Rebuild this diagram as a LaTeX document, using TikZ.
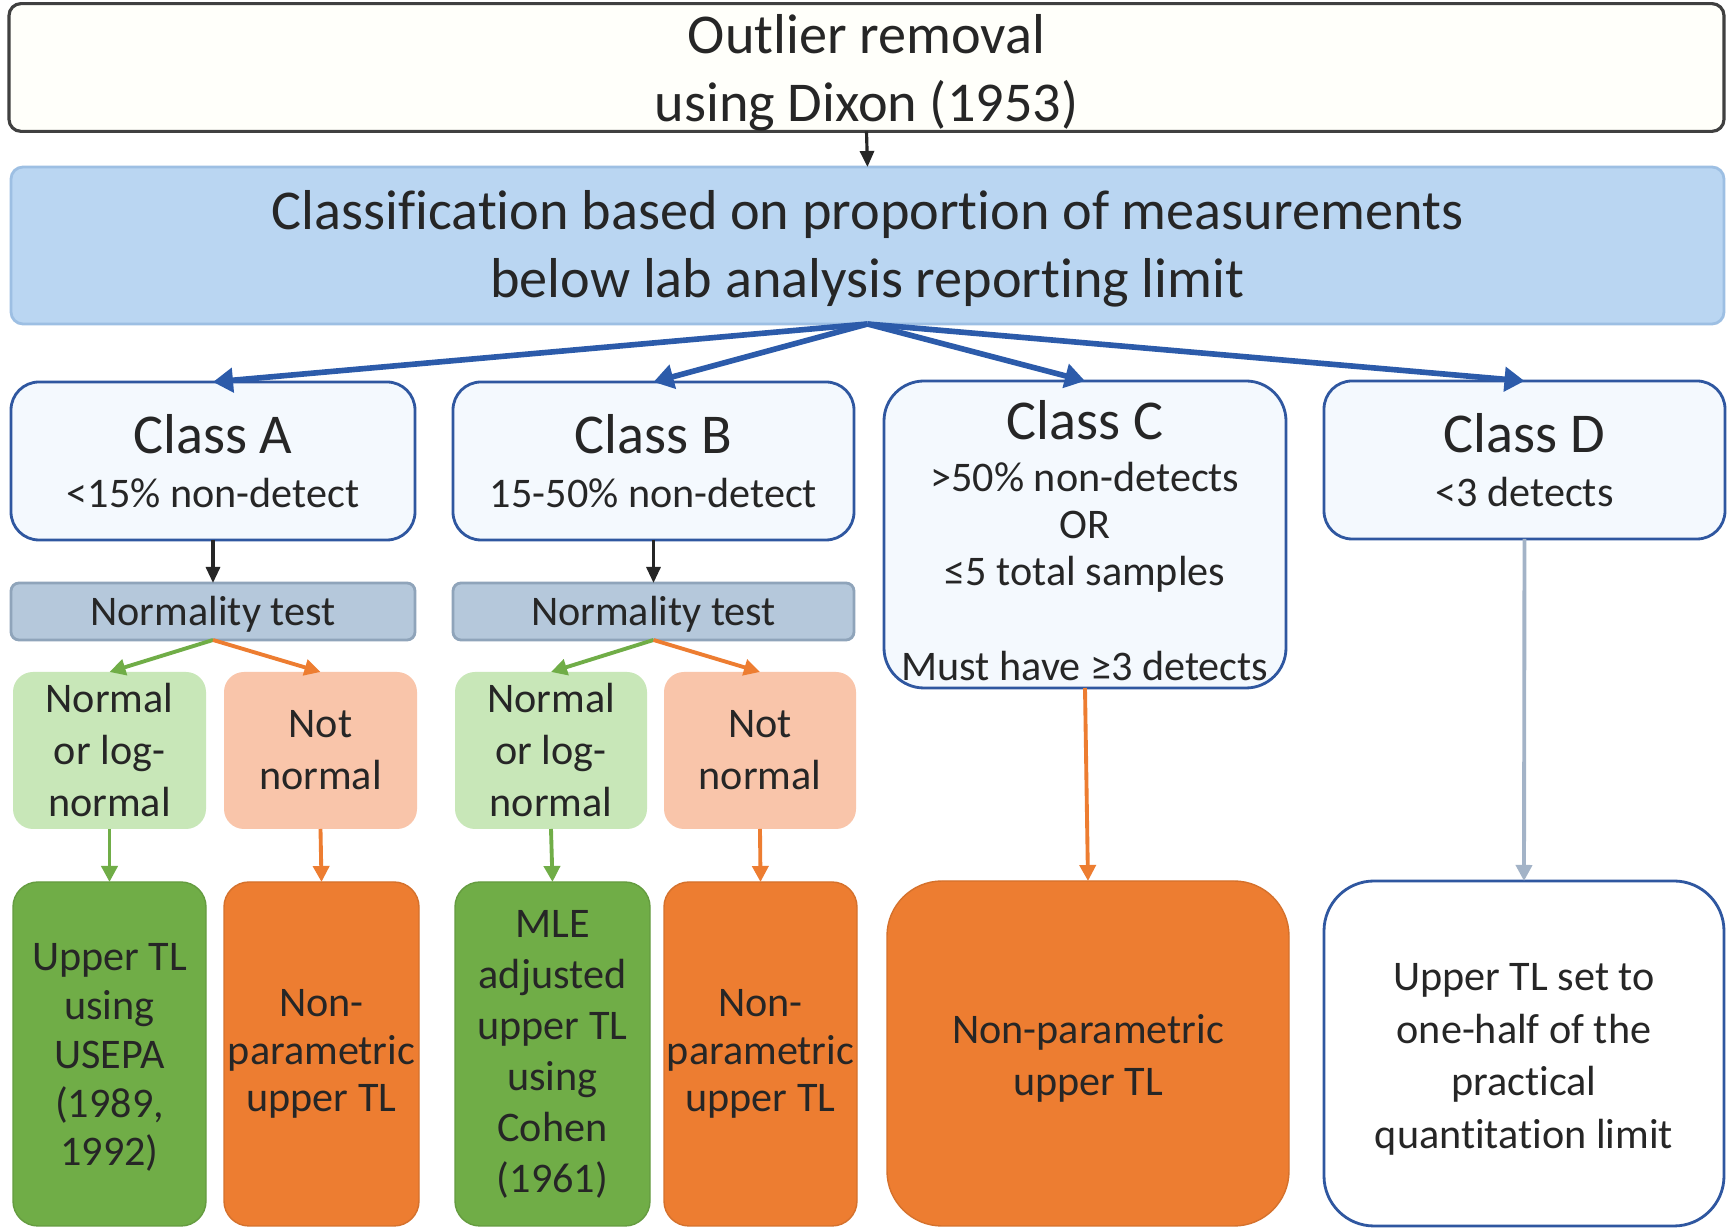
\documentclass[tikz,border=0pt]{standalone}
\usepackage{fontspec}
\setmainfont{Carlito}[Ligatures=NoCommon]
\usetikzlibrary{arrows.meta}
\definecolor{txt}{HTML}{262626}
\definecolor{topfill}{HTML}{FFFFFA}
\definecolor{bluefill}{HTML}{BAD6F2}
\definecolor{blueedge}{HTML}{9DBFE3}
\definecolor{classfill}{HTML}{F4F9FE}
\definecolor{classedge}{HTML}{2F57A0}
\definecolor{normfill}{HTML}{B5C8DB}
\definecolor{normedge}{HTML}{8FA4BA}
\definecolor{lgreen}{HTML}{C8E7B8}
\definecolor{lsalmon}{HTML}{F9C5AA}
\definecolor{dgreen}{HTML}{70AD47}
\definecolor{dorange}{HTML}{ED7D31}
\definecolor{arrblue}{HTML}{2C5BAA}
\definecolor{arrgray}{HTML}{A3B3C7}
\begin{document}
\begin{tikzpicture}[
  every node/.style={inner sep=0pt, outer sep=0pt, text=txt, align=center},
  f12/.style={font=\fontsize{12}{14}\selectfont},
  f16/.style={font=\fontsize{16}{19.3}\selectfont},
  sk/.style={font=\fontsize{12}{#1}\selectfont},
  topbox/.style={f16, draw=black!75, line width=0.9pt, fill=topfill, rounded corners=0.12cm},
  bluebox/.style={f16, draw=blueedge, line width=0.8pt, fill=bluefill, rounded corners=0.12cm},
  classbox/.style={f12, draw=classedge, line width=0.8pt, fill=classfill, rounded corners=0.28cm},
  normbox/.style={f12, draw=normedge, line width=0.8pt, fill=normfill, rounded corners=0.08cm},
  lgbox/.style={sk=14.8pt, fill=lgreen, rounded corners=0.2cm},
  lsbox/.style={sk=14.8pt, fill=lsalmon, rounded corners=0.2cm},
  dgbox/.style={fill=dgreen, draw=dgreen!90!black, line width=0.4pt, rounded corners=0.25cm},
  dobox/.style={fill=dorange, draw=dorange!90!black, line width=0.4pt, rounded corners=0.25cm},
  barr/.style={draw=arrblue, line width=1.6pt, -{Triangle[length=0.2cm,width=0.24cm]}},
  karr/.style={draw=txt, line width=0.9pt, -{Triangle[length=0.16cm,width=0.14cm]}},
  garr/.style={draw=dgreen, line width=1.1pt, -{Triangle[length=0.16cm,width=0.16cm]}},
  oarr/.style={draw=dorange, line width=1.1pt, -{Triangle[length=0.16cm,width=0.16cm]}},
  grarr/.style={draw=arrgray, line width=1.1pt, -{Triangle[length=0.16cm,width=0.16cm]}}
]
\useasboundingbox (0,0) rectangle (17.28,-12.28);
\fill[white] (0,0) rectangle (17.28,-12.28);

% top boxes
\node[topbox, minimum width=17.15cm, minimum height=1.17cm] (outlier) at (8.665,-0.675) {\rule{0pt}{14.3pt}Outlier removal\\using Dixon (1953)};
\node[bluebox, minimum width=17.13cm, minimum height=1.57cm] (classif) at (8.675,-2.455) {\rule{0pt}{13.1pt}Classification based on proportion of measurements\\below lab analysis reporting limit};

% class boxes
\node[classbox, minimum width=4.04cm, minimum height=1.58cm] (classA) at (2.13,-4.61) {{\fontsize{16}{19}\selectfont Class A}\\[1.5pt]<15\% non-detect};
\node[classbox, minimum width=4.01cm, minimum height=1.58cm] (classB) at (6.535,-4.61) {{\fontsize{16}{19}\selectfont Class B}\\[1.5pt]15-50\% non-detect};
\node[classbox, rounded corners=0.4cm, minimum width=4.02cm, minimum height=3.07cm] (classC) at (10.85,-5.345) {{\fontsize{16}{19}\selectfont\rule{0pt}{14.6pt}Class C}\\[0.7pt]>50\% non-detects\\[-0.6pt]OR\\[-0.6pt]≤5 total samples\\[13pt]Must have ≥3 detects};
\node[classbox, minimum width=4.01cm, minimum height=1.58cm] (classD) at (15.245,-4.60) {{\fontsize{16}{19}\selectfont Class D}\\[1.5pt]<3 detects};

% normality tests
\node[normbox, minimum width=4.04cm, minimum height=0.57cm] (normA) at (2.13,-6.115) {\rule{0pt}{10pt}Normality test};
\node[normbox, minimum width=4.01cm, minimum height=0.57cm] (normB) at (6.535,-6.115) {\rule{0pt}{10pt}Normality test};

% distribution boxes
\node[lgbox, minimum width=1.93cm, minimum height=1.57cm] (nlA) at (1.095,-7.505) {Normal\\or log-\\normal};
\node[lsbox, minimum width=1.93cm, minimum height=1.57cm] (nnA) at (3.205,-7.505) {Not\\normal};
\node[lgbox, minimum width=1.92cm, minimum height=1.57cm] (nlB) at (5.51,-7.505) {Normal\\or log-\\normal};
\node[lsbox, minimum width=1.92cm, minimum height=1.57cm] (nnB) at (7.60,-7.505) {Not\\normal};

% result boxes
\node[dgbox, sk=13.9pt, minimum width=1.93cm, minimum height=3.44cm] (resA1) at (1.095,-10.54) {\rule{0pt}{9.8pt}Upper TL\\using\\USEPA\\(1989,\\1992)};
\node[dobox, sk=13.5pt, minimum width=1.95cm, minimum height=3.44cm] (resA2) at (3.215,-10.54) {Non-\\parametric\\upper TL};
\node[dgbox, sk=14.5pt, minimum width=1.95cm, minimum height=3.44cm] (resB1) at (5.525,-10.54) {MLE\\adjusted\\upper TL\\using\\Cohen\\(1961)};
\node[dobox, sk=13.5pt, minimum width=1.93cm, minimum height=3.44cm] (resB2) at (7.605,-10.54) {Non-\\parametric\\upper TL};
\node[dobox, sk=15pt, rounded corners=0.55cm, minimum width=4.02cm, minimum height=3.45cm] (resC) at (10.88,-10.535) {\rule{0pt}{11pt}Non-parametric\\upper TL};
\node[classbox, sk=15pt, fill=white, rounded corners=0.5cm, minimum width=4.00cm, minimum height=3.45cm] (resD) at (15.24,-10.535) {\rule{0pt}{11pt}Upper TL set to\\one-half of the\\practical\\quantitation limit};

% connectors
\draw[karr] (outlier.south) -- (classif.north);
\draw[barr] (classif.south) -- (classA.north);
\draw[barr] (classif.south) -- (classB.north);
\draw[barr] (classif.south) -- (classC.north);
\draw[barr] (classif.south) -- (classD.north);
\draw[karr] (classA.south) -- (normA.north);
\draw[karr] (classB.south) -- (normB.north);
\draw[garr] (normA.south) -- (nlA.north);
\draw[oarr] (normA.south) -- (nnA.north);
\draw[garr] (normB.south) -- (nlB.north);
\draw[oarr] (normB.south) -- (nnB.north);
\draw[garr] (nlA.south) -- (resA1.north);
\draw[oarr] (nnA.south) -- (resA2.north);
\draw[garr] (nlB.south) -- (resB1.north);
\draw[oarr] (nnB.south) -- (resB2.north);
\draw[oarr] (classC.south) -- (resC.north);
\draw[grarr] (classD.south) -- (resD.north);
\end{tikzpicture}
\end{document}
